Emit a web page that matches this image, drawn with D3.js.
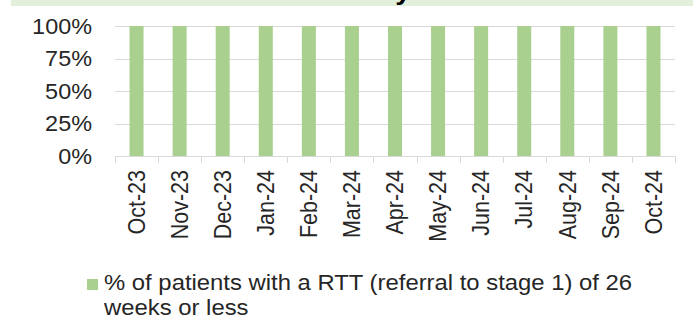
<!DOCTYPE html>
<html>
<head>
<meta charset="utf-8">
<script src="https://cdn.jsdelivr.net/npm/d3@7"></script>
<style>
  html, body { margin: 0; padding: 0; background: #fff; }
  svg { display: block; }
  text { font-family: "Liberation Sans", Arial, sans-serif; fill: #262626; }
</style>
</head>
<body>
<svg id="chart" width="700" height="321"></svg>
<script>
// Monthly RTT performance (share of patients seen within 26 weeks)
const months = ["Oct-23","Nov-23","Dec-23","Jan-24","Feb-24","Mar-24","Apr-24",
                "May-24","Jun-24","Jul-24","Aug-24","Sep-24","Oct-24"];
const rttWithin26Weeks = [1, 1, 1, 1, 1, 1, 1, 1, 1, 1, 1, 1, 1];
const yTicks = [0, 0.25, 0.5, 0.75, 1];
const titleText = "Community";
const legendLines = ["% of patients with a RTT (referral to stage 1) of 26", "weeks or less"];

const svg = d3.select("#chart");
const plot = { left: 115, right: 675, top: 26, bottom: 156 };
const fontSize = 21.5;
const sx = 1.09;          // horizontal text stretch
const barColor = "#a9d08e";
const gridColor = "#d9d9d9";

// header band; the title sits above the top edge, only its descenders show
svg.append("rect")
  .attr("x", 11).attr("y", 0).attr("width", 682).attr("height", 6)
  .attr("fill", "#e2efda");
svg.append("text")
  .attr("transform", `translate(411,-0.5) scale(${sx},1)`)
  .attr("text-anchor", "end")
  .attr("font-weight", "bold")
  .attr("font-size", 26)
  .style("fill", "#000")
  .text(titleText);

const x = d3.scaleBand()
  .domain(months)
  .range([plot.left, plot.right])
  .paddingInner(0.675)
  .paddingOuter(0.3375);

const y = d3.scaleLinear().domain([0, 1]).range([plot.bottom, plot.top]);

// horizontal gridlines
svg.append("g")
  .selectAll("line")
  .data(yTicks.filter(d => d > 0))
  .join("line")
  .attr("x1", plot.left).attr("x2", plot.right)
  .attr("y1", d => Math.round(y(d)) + 0.5).attr("y2", d => Math.round(y(d)) + 0.5)
  .attr("stroke", gridColor).attr("stroke-width", 1);

// y-axis labels
const pct = d3.format(".0%");
svg.append("g")
  .selectAll("text")
  .data(yTicks)
  .join("text")
  .attr("transform", d => `translate(92,${y(d)}) scale(${sx},1)`)
  .attr("text-anchor", "end")
  .attr("dy", "0.35em")
  .attr("font-size", fontSize)
  .text(d => pct(d));

// bars
svg.append("g")
  .selectAll("rect")
  .data(months.map((m, i) => ({ m, v: rttWithin26Weeks[i] })))
  .join("rect")
  .attr("x", d => x(d.m))
  .attr("width", x.bandwidth())
  .attr("y", d => y(d.v))
  .attr("height", d => y(0) - y(d.v))
  .attr("fill", barColor);

// category axis: baseline and tick marks at cell boundaries
const edge = (x.step() - x.bandwidth()) / 2;
const bounds = months.map(m => x(m) - edge).concat([x(months[months.length - 1]) + x.bandwidth() + edge]);
svg.append("line")
  .attr("x1", plot.left).attr("x2", plot.right)
  .attr("y1", plot.bottom + 0.5).attr("y2", plot.bottom + 0.5)
  .attr("stroke", gridColor);
svg.append("g")
  .selectAll("line")
  .data(bounds)
  .join("line")
  .attr("x1", d => Math.round(d) + 0.5).attr("x2", d => Math.round(d) + 0.5)
  .attr("y1", plot.bottom).attr("y2", plot.bottom + 7)
  .attr("stroke", gridColor);

// rotated month labels
svg.append("g")
  .selectAll("text")
  .data(months)
  .join("text")
  .attr("transform", d => `translate(${x(d) + x.bandwidth() / 2},170) scale(${sx},1) rotate(-90)`)
  .attr("text-anchor", "end")
  .attr("dy", "0.35em")
  .attr("font-size", fontSize)
  .text(d => d);

// legend
const legend = svg.append("g");
legend.append("rect")
  .attr("x", 87).attr("y", 279).attr("width", 11).attr("height", 11)
  .attr("fill", barColor);
legend.selectAll("text")
  .data(legendLines)
  .join("text")
  .attr("transform", (d, i) => `translate(104,${290 + i * 25}) scale(1.11,1)`)
  .attr("font-size", fontSize)
  .text(d => d);
</script>
</body>
</html>
